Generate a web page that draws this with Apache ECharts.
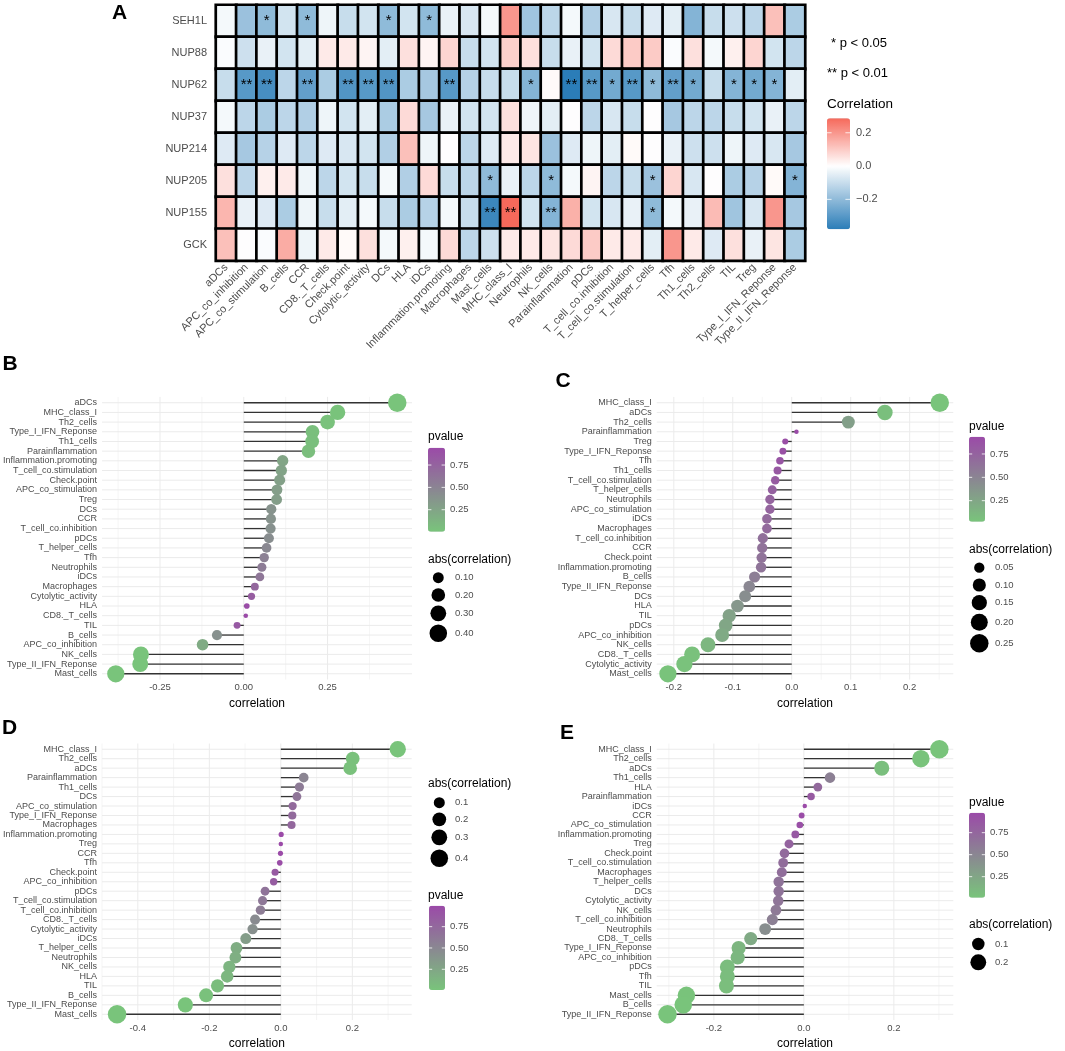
<!DOCTYPE html>
<html>
<head>
<meta charset="utf-8">
<title>Nucleoporin genes vs immune signatures</title>
<script src="https://cdn.jsdelivr.net/npm/echarts@6/dist/echarts.min.js"></script>
<style>
  html, body { margin: 0; padding: 0; background: #fff; }
  #chart { width: 1065px; height: 1051px; }
</style>
</head>
<body>
<div id="chart"></div>
<script>
// ---- Panel A: heatmap data ----
const cellTypes = ['aDCs', 'APC_co_inhibition', 'APC_co_stimulation', 'B_cells', 'CCR', 'CD8._T_cells',
  'Check.point', 'Cytolytic_activity', 'DCs', 'HLA', 'iDCs', 'Inflammation.promoting', 'Macrophages',
  'Mast_cells', 'MHC_class_I', 'Neutrophils', 'NK_cells', 'Parainflammation', 'pDCs',
  'T_cell_co.inhibition', 'T_cell_co.stimulation', 'T_helper_cells', 'Tfh', 'Th1_cells', 'Th2_cells',
  'TIL', 'Treg', 'Type_I_IFN_Reponse', 'Type_II_IFN_Reponse'];
const genes = ['SEH1L', 'NUP88', 'NUP62', 'NUP37', 'NUP214', 'NUP205', 'NUP155', 'GCK'];

const corSEH1L = [-0.02, -0.18, -0.20, -0.08, -0.20, -0.03, -0.10, -0.08, -0.20, -0.08, -0.20, -0.04, -0.07, -0.02, 0.20, -0.17, -0.12, -0.02, -0.14, -0.07, -0.10, -0.06, -0.05, -0.22, -0.10, -0.09, -0.12, 0.12, -0.15];
const corNUP88 = [-0.01, -0.09, -0.04, -0.08, -0.05, 0.04, 0.04, 0.02, -0.05, 0.06, 0.02, 0.08, -0.10, -0.08, 0.09, 0.06, -0.10, -0.04, -0.08, 0.07, 0.10, 0.10, -0.01, 0.06, -0.02, 0.03, 0.08, -0.08, -0.12];
const corNUP62 = [-0.10, -0.30, -0.33, -0.12, -0.28, -0.15, -0.31, -0.30, -0.31, -0.15, -0.16, -0.30, -0.13, -0.10, -0.10, -0.22, 0.01, -0.38, -0.30, -0.25, -0.30, -0.20, -0.28, -0.25, -0.10, -0.22, -0.25, -0.22, -0.05];
const corNUP37 = [-0.02, -0.12, -0.15, -0.12, -0.14, -0.03, -0.08, -0.05, -0.15, 0.07, -0.16, -0.04, -0.08, -0.08, 0.06, -0.03, -0.05, 0.00, -0.12, -0.07, -0.10, 0.00, -0.16, -0.12, -0.12, -0.10, -0.08, -0.04, -0.12];
const corNUP214 = [-0.06, -0.16, -0.13, -0.06, -0.12, -0.06, -0.07, -0.08, -0.14, 0.12, -0.03, 0.00, -0.12, -0.06, 0.04, 0.05, -0.18, -0.06, -0.03, -0.05, 0.01, 0.00, -0.04, -0.09, -0.09, -0.03, -0.06, -0.07, -0.16];
const corNUP205 = [0.06, -0.12, 0.03, 0.04, -0.03, -0.12, -0.08, -0.10, -0.02, -0.14, 0.07, -0.10, -0.12, -0.20, -0.04, -0.12, -0.20, -0.02, 0.02, -0.12, -0.10, -0.18, 0.08, -0.07, 0.00, -0.15, -0.13, 0.01, -0.22];
const corNUP155 = [0.14, -0.04, -0.06, -0.15, -0.03, -0.10, -0.05, -0.02, -0.10, -0.15, -0.13, -0.02, -0.10, -0.35, 0.287, -0.08, -0.22, 0.15, -0.08, -0.07, -0.04, -0.20, -0.02, -0.04, 0.13, -0.17, -0.07, 0.20, -0.16];
const corGCK = [0.12, 0.00, -0.01, 0.16, -0.03, 0.04, 0.01, 0.06, -0.02, 0.03, -0.02, 0.07, -0.12, -0.09, 0.04, 0.04, 0.05, 0.07, 0.10, 0.04, 0.04, -0.05, 0.20, 0.04, -0.06, 0.06, -0.04, 0.05, -0.15];
const heatRows = [corSEH1L, corNUP88, corNUP62, corNUP37, corNUP214, corNUP205, corNUP155, corGCK];

// significance marks: [gene, cell type, mark]
const sigMarks = [
  ['SEH1L', 'APC_co_stimulation', '*'], ['SEH1L', 'CCR', '*'], ['SEH1L', 'DCs', '*'], ['SEH1L', 'iDCs', '*'],
  ['NUP62', 'APC_co_inhibition', '**'], ['NUP62', 'APC_co_stimulation', '**'], ['NUP62', 'CCR', '**'],
  ['NUP62', 'Check.point', '**'], ['NUP62', 'Cytolytic_activity', '**'], ['NUP62', 'DCs', '**'],
  ['NUP62', 'Inflammation.promoting', '**'], ['NUP62', 'Neutrophils', '*'], ['NUP62', 'Parainflammation', '**'],
  ['NUP62', 'pDCs', '**'], ['NUP62', 'T_cell_co.inhibition', '*'], ['NUP62', 'T_cell_co.stimulation', '**'],
  ['NUP62', 'T_helper_cells', '*'], ['NUP62', 'Tfh', '**'], ['NUP62', 'Th1_cells', '*'], ['NUP62', 'TIL', '*'],
  ['NUP62', 'Treg', '*'], ['NUP62', 'Type_I_IFN_Reponse', '*'],
  ['NUP205', 'Mast_cells', '*'], ['NUP205', 'NK_cells', '*'], ['NUP205', 'T_helper_cells', '*'],
  ['NUP205', 'Type_II_IFN_Reponse', '*'],
  ['NUP155', 'Mast_cells', '**'], ['NUP155', 'MHC_class_I', '**'], ['NUP155', 'NK_cells', '**'],
  ['NUP155', 'T_helper_cells', '*']
];

// ---- Panels B-E: lollipop data ----
const bCats = ['aDCs', 'MHC_class_I', 'Th2_cells', 'Type_I_IFN_Reponse', 'Th1_cells', 'Parainflammation',
  'Inflammation.promoting', 'T_cell_co.stimulation', 'Check.point', 'APC_co_stimulation', 'Treg', 'DCs', 'CCR',
  'T_cell_co.inhibition', 'pDCs', 'T_helper_cells', 'Tfh', 'Neutrophils', 'iDCs', 'Macrophages',
  'Cytolytic_activity', 'HLA', 'CD8._T_cells', 'TIL', 'B_cells', 'APC_co_inhibition', 'NK_cells',
  'Type_II_IFN_Reponse', 'Mast_cells'];
const bCorr = [0.458, 0.280, 0.250, 0.205, 0.204, 0.193, 0.116, 0.112, 0.107, 0.099, 0.098, 0.082, 0.081, 0.080, 0.075, 0.068, 0.061, 0.054, 0.048, 0.033, 0.023, 0.009, 0.006, -0.020, -0.080, -0.123, -0.307, -0.309, -0.382];
const bPval = [0.004, 0.01, 0.02, 0.04, 0.04, 0.05, 0.24, 0.26, 0.28, 0.30, 0.30, 0.38, 0.38, 0.40, 0.43, 0.47, 0.52, 0.56, 0.60, 0.72, 0.80, 0.92, 0.94, 0.83, 0.40, 0.20, 0.005, 0.005, 0.004];

const cCats = ['MHC_class_I', 'aDCs', 'Th2_cells', 'Parainflammation', 'Treg', 'Type_I_IFN_Reponse', 'Tfh',
  'Th1_cells', 'T_cell_co.stimulation', 'T_helper_cells', 'Neutrophils', 'APC_co_stimulation', 'iDCs',
  'Macrophages', 'T_cell_co.inhibition', 'CCR', 'Check.point', 'Inflammation.promoting', 'B_cells',
  'Type_II_IFN_Reponse', 'DCs', 'HLA', 'TIL', 'pDCs', 'APC_co_inhibition', 'NK_cells', 'CD8._T_cells',
  'Cytolytic_activity', 'Mast_cells'];
const cCorr = [0.251, 0.158, 0.096, 0.008, -0.011, -0.015, -0.020, -0.024, -0.028, -0.033, -0.037, -0.037, -0.042, -0.042, -0.049, -0.050, -0.051, -0.052, -0.063, -0.072, -0.079, -0.092, -0.106, -0.112, -0.118, -0.142, -0.169, -0.182, -0.210];
const cPval = [0.025, 0.06, 0.30, 0.93, 0.90, 0.88, 0.85, 0.82, 0.80, 0.76, 0.74, 0.74, 0.70, 0.70, 0.65, 0.64, 0.63, 0.62, 0.55, 0.48, 0.43, 0.36, 0.28, 0.25, 0.22, 0.12, 0.05, 0.04, 0.03];

const dCats = ['MHC_class_I', 'Th2_cells', 'aDCs', 'Parainflammation', 'Th1_cells', 'DCs', 'APC_co_stimulation',
  'Type_I_IFN_Reponse', 'Macrophages', 'Inflammation.promoting', 'Treg', 'CCR', 'Tfh', 'Check.point',
  'APC_co_inhibition', 'pDCs', 'T_cell_co.stimulation', 'T_cell_co.inhibition', 'CD8._T_cells',
  'Cytolytic_activity', 'iDCs', 'T_helper_cells', 'Neutrophils', 'NK_cells', 'HLA', 'TIL', 'B_cells',
  'Type_II_IFN_Reponse', 'Mast_cells'];
const dCorr = [0.327, 0.201, 0.194, 0.064, 0.052, 0.045, 0.033, 0.032, 0.030, 0.001, 0.000, -0.001, -0.003, -0.016, -0.020, -0.044, -0.051, -0.057, -0.072, -0.079, -0.098, -0.124, -0.127, -0.144, -0.150, -0.177, -0.209, -0.267, -0.458];
const dPval = [0.007, 0.03, 0.03, 0.52, 0.60, 0.65, 0.74, 0.74, 0.76, 0.99, 0.996, 0.99, 0.97, 0.87, 0.84, 0.66, 0.62, 0.58, 0.47, 0.43, 0.32, 0.19, 0.18, 0.13, 0.11, 0.06, 0.03, 0.01, 0.007];

const eCats = ['MHC_class_I', 'Th2_cells', 'aDCs', 'Th1_cells', 'HLA', 'Parainflammation', 'iDCs', 'CCR',
  'APC_co_stimulation', 'Inflammation.promoting', 'Treg', 'Check.point', 'T_cell_co.stimulation', 'Macrophages',
  'T_helper_cells', 'DCs', 'Cytolytic_activity', 'NK_cells', 'T_cell_co.inhibition', 'Neutrophils',
  'CD8._T_cells', 'Type_I_IFN_Reponse', 'APC_co_inhibition', 'pDCs', 'Tfh', 'TIL', 'Mast_cells', 'B_cells',
  'Type_II_IFN_Reponse'];
const eCorr = [0.301, 0.260, 0.173, 0.058, 0.031, 0.016, 0.002, -0.005, -0.009, -0.019, -0.033, -0.043, -0.046, -0.049, -0.056, -0.056, -0.057, -0.062, -0.070, -0.086, -0.118, -0.145, -0.147, -0.170, -0.170, -0.172, -0.261, -0.268, -0.303];
const ePval = [0.011, 0.02, 0.05, 0.55, 0.73, 0.85, 0.97, 0.95, 0.93, 0.86, 0.78, 0.72, 0.70, 0.69, 0.65, 0.65, 0.64, 0.60, 0.55, 0.44, 0.22, 0.12, 0.11, 0.07, 0.07, 0.06, 0.015, 0.013, 0.011];

// ---- styling ----
const FONT = 'Arial, "Liberation Sans", sans-serif';
const GREY = '#4D4D4D';
const GRID_COL = '#EBEBEB';
const HEAT_MIN = -0.38, HEAT_MAX = 0.287;

function toRgb(h) { return [1, 3, 5].map(i => parseInt(h.slice(i, i + 2), 16)); }
function mix(a, b, t) {
  const A = toRgb(a), B = toRgb(b);
  return 'rgb(' + A.map((v, i) => Math.round(v + (B[i] - v) * t)).join(',') + ')';
}
// colour stops so that white sits at 0 on an asymmetric range
function divergingStops(min, max, low, mid, high, n) {
  const out = [];
  for (let i = 0; i <= n; i++) {
    const v = min + (max - min) * i / n;
    out.push(v < 0 ? mix(mid, low, v / min) : mix(mid, high, v / max));
  }
  return out;
}

const heatData = [];
heatRows.forEach((row, r) => row.forEach((v, c) => heatData.push([c, r, v])));
const starLookup = {};
sigMarks.forEach(([g, ct, m]) => { starLookup[genes.indexOf(g) + '|' + cellTypes.indexOf(ct)] = m; });

const panels = [
  { cats: bCats, corr: bCorr, pval: bPval, grid: { left: 100, top: 397.9, width: 312, height: 280.7 },
    range: [-0.423, 0.502], ticks: [-0.25, 0, 0.25], minor: [-0.375, -0.125, 0.125, 0.375], digits: 2,
    pRange: [0.004, 0.944], sizeBreaks: [0.1, 0.2, 0.3, 0.4],
    pTitle: [428, 436.7], pBar: [428, 447.7, 17, 84], pLabelX: 450,
    sTitle: [428, 559.3], sX: 438.3, sY: [577.7, 595, 613.3, 633.3], sLabelX: 455 },
  { cats: cCats, corr: cCorr, pval: cPval, grid: { left: 656.7, top: 397.9, width: 296.6, height: 280.7 },
    range: [-0.229, 0.274], ticks: [-0.2, -0.1, 0, 0.1, 0.2], minor: [-0.15, -0.05, 0.05, 0.15, 0.25], digits: 1,
    pRange: [0.025, 0.935], sizeBreaks: [0.05, 0.10, 0.15, 0.20, 0.25],
    pTitle: [969, 426.7], pBar: [969, 436.7, 16, 85], pLabelX: 990,
    sTitle: [969, 549.3], sX: 979.3, sY: [567.7, 585, 602.7, 622.3, 643.3], sLabelX: 995 },
  { cats: dCats, corr: dCorr, pval: dPval, grid: { left: 100, top: 744.5, width: 311.7, height: 280.7 },
    range: [-0.5, 0.366], ticks: [-0.4, -0.2, 0, 0.2], minor: [-0.5, -0.3, -0.1, 0.1, 0.3], digits: 1,
    pRange: [0.007, 0.996], sizeBreaks: [0.1, 0.2, 0.3, 0.4],
    pTitle: [428, 895.7], pBar: [429, 905.7, 16, 84.3], pLabelX: 450,
    sTitle: [428, 784], sX: 439.3, sY: [802.7, 819.3, 837.3, 858.3], sLabelX: 455 },
  { cats: eCats, corr: eCorr, pval: ePval, grid: { left: 656.7, top: 744.5, width: 296.6, height: 280.7 },
    range: [-0.327, 0.332], ticks: [-0.2, 0, 0.2], minor: [-0.3, -0.1, 0.1, 0.3], digits: 1,
    pRange: [0.011, 0.977], sizeBreaks: [0.1, 0.2],
    pTitle: [969, 802.7], pBar: [969, 812.7, 16, 85], pLabelX: 990,
    sTitle: [969, 925], sX: 978.3, sY: [944, 962.3], sLabelX: 995 }
];

const D_MIN = 4.5, D_MAX = 18.5;
function makeSizer(corr) {
  const abs = corr.map(Math.abs);
  const lo = Math.min(...abs), hi = Math.max(...abs);
  return a => D_MIN + (D_MAX - D_MIN) * Math.sqrt(Math.max(0, (a - lo) / (hi - lo)));
}

function hGridItem(params, api) {
  const y = api.coord([0, api.value(1)])[1];
  const cs = params.coordSys;
  return { type: 'line', shape: { x1: cs.x, y1: y, x2: cs.x + cs.width, y2: y },
    style: { stroke: GRID_COL, lineWidth: 1 } };
}
function vGridItem(params, api) {
  const x = api.coord([api.value(0), 0])[0];
  const cs = params.coordSys;
  return { type: 'line', shape: { x1: x, y1: cs.y - 1, x2: x, y2: cs.y + cs.height + 1 },
    style: { stroke: GRID_COL, lineWidth: api.value(2) } };
}

const grids = [{ left: 216, top: 5, width: 589, height: 255.7 }];
const xAxes = [{
  gridIndex: 0, type: 'category', data: cellTypes,
  axisLine: { show: false }, axisTick: { show: false }, splitLine: { show: false },
  axisLabel: { rotate: 45, interval: 0, fontSize: 11, color: GREY, margin: 5, fontFamily: FONT }
}];
const yAxes = [{
  gridIndex: 0, type: 'category', data: genes, inverse: true,
  axisLine: { show: false }, axisTick: { show: false }, splitLine: { show: false },
  axisLabel: { fontSize: 11, color: GREY, margin: 9, fontFamily: FONT }
}];
const series = [{
  type: 'heatmap', xAxisIndex: 0, yAxisIndex: 0, data: heatData,
  itemStyle: { borderColor: '#000', borderWidth: 2.7 },
  label: {
    show: true, fontSize: 15, color: '#000', fontFamily: FONT,
    formatter: p => starLookup[p.data[1] + '|' + p.data[0]] || ''
  },
  emphasis: { disabled: true }
}];
const visualMaps = [{
  type: 'continuous', seriesIndex: 0, dimension: 2, min: HEAT_MIN, max: HEAT_MAX,
  calculable: false, hoverLink: false, padding: 0,
  left: 827, top: 118.3, itemWidth: 23, itemHeight: 111,
  inRange: { color: divergingStops(HEAT_MIN, HEAT_MAX, '#2B7DB8', '#FFFFFF', '#F6695B', 60) }
}];

const graphic = [];
function txt(x, y, text, size, color, extra) {
  graphic.push(Object.assign({
    type: 'text', x: x, y: y, silent: true,
    style: { text: text, fill: color || '#000', font: (size || 11) + 'px ' + FONT,
      textAlign: 'left', textVerticalAlign: 'middle' }
  }, extra || {}));
}
function tickMarks(left, top, w, h, min, max, values) {
  values.forEach(v => {
    const y = top + (max - v) / (max - min) * h;
    [[left, left + w * 0.2], [left + w * 0.8, left + w]].forEach(([x1, x2]) => {
      graphic.push({ type: 'line', silent: true, z: 100, shape: { x1: x1, y1: y, x2: x2, y2: y },
        style: { stroke: '#FFFFFF', lineWidth: 1, opacity: 0.8 } });
    });
  });
}

// panel letters
[['A', 119.5, 13], ['B', 10, 364.5], ['C', 563, 381], ['D', 9.5, 728], ['E', 567, 733]].forEach(([t, x, y]) => {
  graphic.push({ type: 'text', x: x, y: y, silent: true,
    style: { text: t, fill: '#000', font: 'bold 21px ' + FONT, textAlign: 'center', textVerticalAlign: 'middle' } });
});

// heatmap legend
txt(831, 43, '* p < 0.05', 13);
txt(827, 73, '** p < 0.01', 13);
txt(827, 104, 'Correlation', 13.5);
[[0.2, '0.2'], [0, '0.0'], [-0.2, '\u22120.2']].forEach(([v, t]) => {
  txt(856, 118.3 + (HEAT_MAX - v) / (HEAT_MAX - HEAT_MIN) * 111, t, 11, GREY);
});
tickMarks(827, 118.3, 23, 111, HEAT_MIN, HEAT_MAX, [0.2, 0, -0.2]);

panels.forEach((p, i) => {
  const gi = i + 1;
  const sizer = makeSizer(p.corr);
  grids.push(p.grid);
  xAxes.push({
    gridIndex: gi, type: 'value', min: p.range[0], max: p.range[1],
    axisLine: { show: false }, axisTick: { show: false, customValues: p.ticks }, splitLine: { show: false },
    axisLabel: { customValues: p.ticks, formatter: v => v.toFixed(p.digits), fontSize: 9.5, color: GREY,
      margin: 4, fontFamily: FONT },
    name: 'correlation', nameLocation: 'middle', nameGap: 19,
    nameTextStyle: { fontSize: 12, color: '#000', fontFamily: FONT }
  });
  yAxes.push({
    gridIndex: gi, type: 'category', data: p.cats, inverse: true,
    axisLine: { show: false }, axisTick: { show: false }, splitLine: { show: false },
    axisLabel: { fontSize: 9, color: GREY, margin: 5, interval: 0, fontFamily: FONT }
  });
  series.push({
    type: 'custom', xAxisIndex: gi, yAxisIndex: gi, silent: true, z: 1,
    data: p.cats.map((c, k) => [0, k]), renderItem: hGridItem
  });
  series.push({
    type: 'custom', xAxisIndex: gi, yAxisIndex: gi, silent: true, z: 1,
    data: p.ticks.map(v => [v, 0, 1]).concat(p.minor.map(v => [v, 0, 0.5])), renderItem: vGridItem
  });
  series.push({
    type: 'bar', xAxisIndex: gi, yAxisIndex: gi, silent: true, z: 2,
    data: p.corr, barWidth: 1.3, itemStyle: { color: '#333333' }
  });
  series.push({
    type: 'scatter', xAxisIndex: gi, yAxisIndex: gi, z: 3,
    data: p.cats.map((c, k) => [p.corr[k], k, p.pval[k]]),
    symbolSize: v => sizer(Math.abs(v[0])),
    itemStyle: { opacity: 1 }
  });
  visualMaps.push({
    type: 'continuous', seriesIndex: series.length - 1, dimension: 2,
    min: p.pRange[0], max: p.pRange[1], calculable: false, hoverLink: false, padding: 0,
    left: p.pBar[0], top: p.pBar[1], itemWidth: p.pBar[2], itemHeight: p.pBar[3],
    inRange: { color: ['#79C47B', '#9B4AA8'] }
  });

  // legends
  txt(p.pTitle[0], p.pTitle[1], 'pvalue', 12);
  [0.75, 0.5, 0.25].forEach(v => {
    txt(p.pLabelX, p.pBar[1] + (p.pRange[1] - v) / (p.pRange[1] - p.pRange[0]) * p.pBar[3], v.toFixed(2), 9.5, GREY);
  });
  tickMarks(p.pBar[0], p.pBar[1], p.pBar[2], p.pBar[3], p.pRange[0], p.pRange[1], [0.75, 0.5, 0.25]);
  txt(p.sTitle[0], p.sTitle[1], 'abs(correlation)', 12);
  p.sizeBreaks.forEach((b, k) => {
    graphic.push({ type: 'circle', silent: true, shape: { cx: p.sX, cy: p.sY[k], r: sizer(b) / 2 },
      style: { fill: '#000' } });
    txt(p.sLabelX, p.sY[k], p.digits === 2 || p.sizeBreaks.length === 5 ? b.toFixed(2) : b.toFixed(1), 9.5, GREY);
  });
});

const chart = echarts.init(document.getElementById('chart'));
chart.setOption({
  backgroundColor: '#FFFFFF',
  animation: false,
  textStyle: { fontFamily: FONT },
  grid: grids,
  xAxis: xAxes,
  yAxis: yAxes,
  visualMap: visualMaps,
  series: series,
  graphic: graphic
});
</script>
</body>
</html>
